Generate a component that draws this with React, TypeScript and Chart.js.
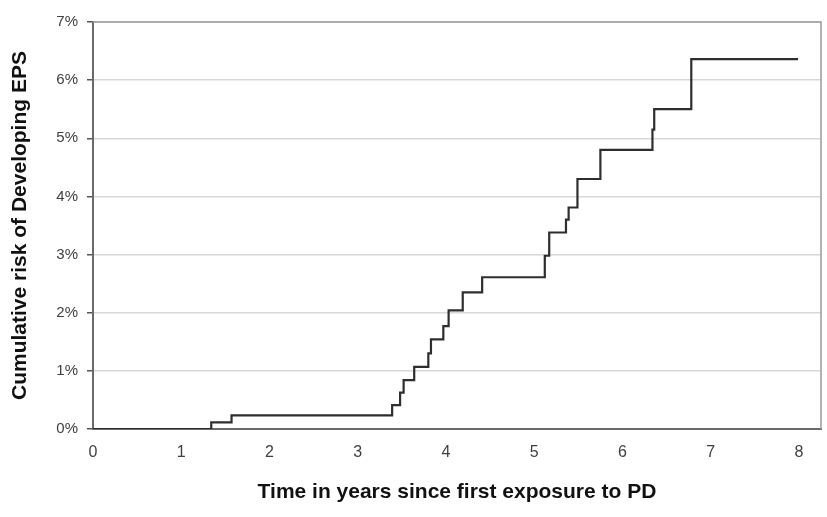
import React, { useEffect, useRef } from "react";
import { Chart, registerables } from "chart.js";

Chart.register(...registerables);

// Kaplan-Meier style cumulative risk (years, percent)
const timeYears = [0, 1.34, 1.57, 3.39, 3.48, 3.52, 3.64, 3.80, 3.83, 3.97, 4.03, 4.19, 4.41, 5.12, 5.17, 5.36, 5.39, 5.49, 5.75, 6.34, 6.36, 6.78, 7.99];
const riskPercent = [0, 0.115, 0.236, 0.41, 0.625, 0.84, 1.07, 1.30, 1.54, 1.77, 2.04, 2.35, 2.61, 2.98, 3.38, 3.60, 3.81, 4.30, 4.80, 5.15, 5.50, 6.36, 6.36];
const xTicks = [0, 1, 2, 3, 4, 5, 6, 7, 8];
const yTicks = [0, 1, 2, 3, 4, 5, 6, 7];

const xTitle = "Time in years since first exposure to PD";
const yTitle = "Cumulative risk of Developing EPS";

const FONT = "'Liberation Sans', Arial, sans-serif";

const framePlugin = {
  id: "frame",
  afterDatasetsDraw(chart: any) {
    const { ctx, chartArea } = chart;
    ctx.save();
    ctx.strokeStyle = "#9a9a9a";
    ctx.lineWidth = 1.5;
    ctx.beginPath();
    ctx.moveTo(chartArea.left, chartArea.top);
    ctx.lineTo(chartArea.right, chartArea.top);
    ctx.lineTo(chartArea.right, chartArea.bottom);
    ctx.stroke();
    ctx.restore();
  },
};

export default function App() {
  const ref = useRef<HTMLCanvasElement>(null);
  useEffect(() => {
    document.body.style.margin = "0";
    const canvas = ref.current!;
    const chart = new Chart(canvas, {
      type: "line",
      data: {
        datasets: [
          {
            data: timeYears.map((t, i) => ({ x: t, y: riskPercent[i] })),
            stepped: "before",
            borderColor: "#2e2e2e",
            borderWidth: 2.2,
            pointRadius: 0,
            fill: false,
          },
        ],
      },
      options: {
        animation: false,
        responsive: false,
        maintainAspectRatio: false,
        layout: { padding: { left: 0, top: 22, right: 6, bottom: 0 } },
        plugins: { legend: { display: false }, tooltip: { enabled: false } },
        scales: {
          x: {
            type: "linear",
            min: 0,
            max: 8.25,
            afterBuildTicks: (s: any) => {
              s.ticks = xTicks.map((v) => ({ value: v }));
            },
            afterFit: (s: any) => {
              s.height = 88;
            },
            grid: { display: false, drawTicks: false },
            border: { display: true, color: "#6a6a6a", width: 2 },
            ticks: {
              padding: 14,
              color: "#404040",
              font: { family: FONT, size: 16 },
              maxRotation: 0,
            },
            title: {
              display: true,
              text: xTitle,
              color: "#111111",
              font: { family: FONT, size: 21, weight: "bold" },
              padding: { top: 0, bottom: 12 },
            },
          },
          y: {
            type: "linear",
            min: 0,
            max: 7,
            afterBuildTicks: (s: any) => {
              s.ticks = yTicks.map((v) => ({ value: v }));
            },
            afterFit: (s: any) => {
              s.width = 93;
            },
            grid: {
              color: (c: any) => (c.tick && c.tick.value === 0 ? "rgba(0,0,0,0)" : "#d8d8d8"),
              lineWidth: 1.5,
              tickColor: "#555555",
              tickLength: 6,
              drawTicks: true,
            },
            border: { display: true, color: "#6a6a6a", width: 2 },
            ticks: {
              padding: 9,
              color: "#404040",
              font: { family: FONT, size: 15 },
              callback: (v: any) => v + "%",
            },
            title: {
              display: true,
              text: yTitle,
              color: "#111111",
              font: { family: FONT, size: 21, weight: "bold" },
              padding: { top: 8, bottom: 0 },
            },
          },
        },
      },
      plugins: [framePlugin],
    });
    return () => chart.destroy();
  }, []);
  return <canvas ref={ref} width={827} height={517} style={{ display: "block" }} />;
}
